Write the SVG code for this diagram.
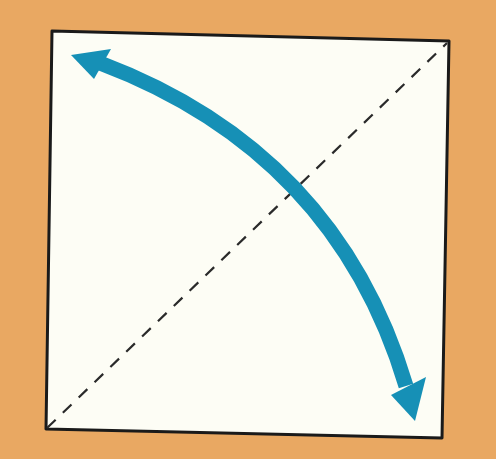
<svg xmlns="http://www.w3.org/2000/svg" width="496" height="459" viewBox="0 0 496 459">
<style>
.paper{fill:#fdfdf5;stroke:#1a1a1a;stroke-width:3;stroke-linejoin:round}
.crease{fill:none;stroke:#2a2a2a;stroke-width:2.2;stroke-dasharray:12 10}
.arrow{fill:none;stroke:#1690b6;stroke-width:15;stroke-linecap:butt}
.head{fill:#1690b6}
</style>
<rect x="0" y="0" width="496" height="459" fill="#e9a862"/>
<g id="paper">
<path class="paper" d="M52,31 L449,41 L442,438 L46,429 Z"/>
</g>
<g id="connectors">
<line class="crease" x1="47" y1="428" x2="447" y2="43"/>
<path class="arrow" d="M100,63 Q336,152 406,386"/>
<polygon class="head" points="71,55 111,49 94,79"/>
<polygon class="head" points="415,421 391,395 426,377"/>
</g>
</svg>
